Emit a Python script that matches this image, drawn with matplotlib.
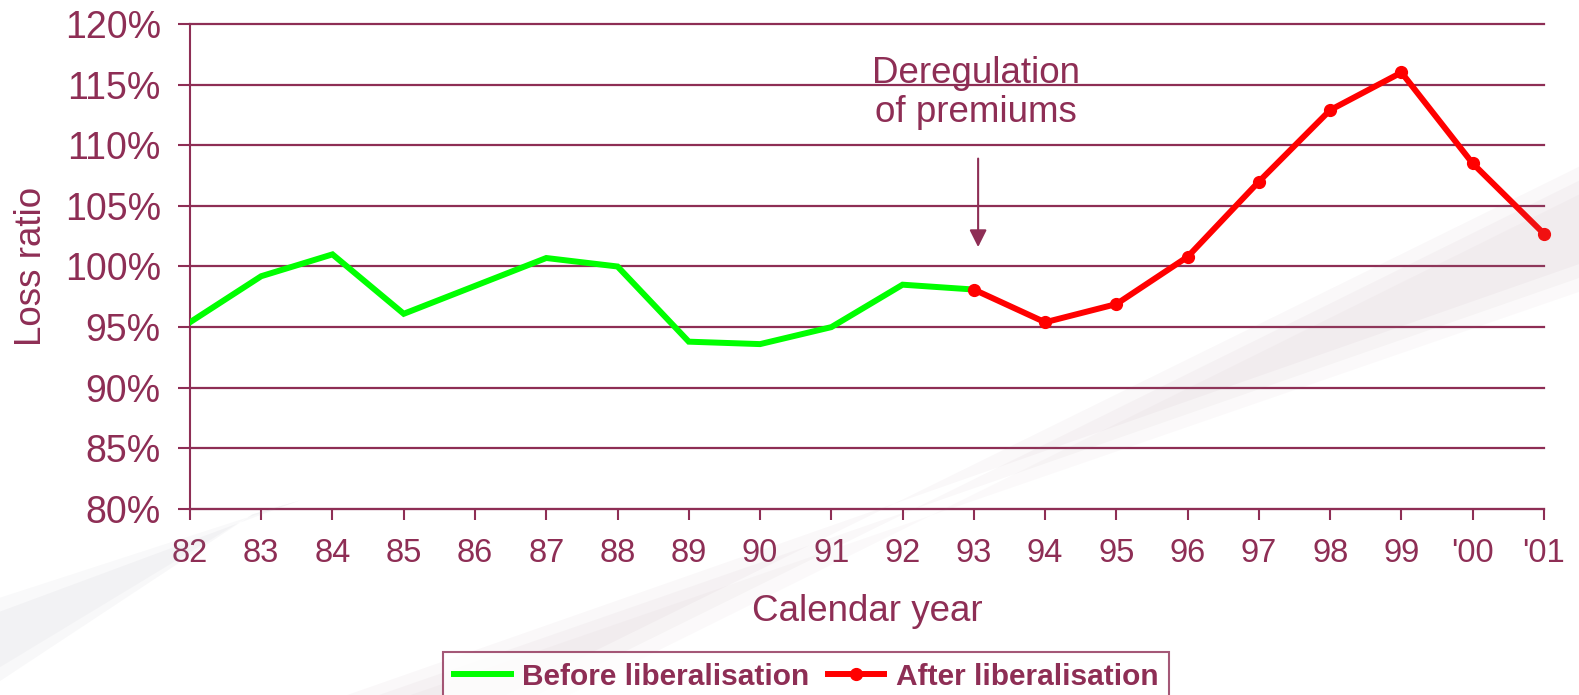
import numpy as np
import matplotlib.pyplot as plt
from matplotlib.patches import Polygon

MAROON = "#8E2E55"
GREEN = "#00FF00"
RED = "#FF0000"

years = ["82", "83", "84", "85", "86", "87", "88", "89", "90", "91",
         "92", "93", "94", "95", "96", "97", "98", "99", "'00", "'01"]
before = [95.4, 99.2, 101.0, 96.1, 98.4, 100.7, 100.0, 93.8, 93.6, 95.0,
          98.5, 98.1]
after = [98.1, 95.4, 96.9, 100.8, 107.0, 112.9, 116.0, 108.5, 102.7]
yticks = [80, 85, 90, 95, 100, 105, 110, 115, 120]

plt.rcParams["font.family"] = ["Liberation Sans", "DejaVu Sans"]

fig = plt.figure(figsize=(15.79, 6.95), dpi=100)

# faint background swooshes (watermark)
for off, a in ((0, 0.05), (0.02, 0.05), (0.04, 0.04)):
    fig.patches.append(Polygon([(0.22 + off, 0.0), (0.32 + off, 0.0), (1.0, 0.76 - off),
                                (1.0, 0.62 - off)], closed=True, transform=fig.transFigure,
                               fc="#A07F8C", ec="none", alpha=a, zorder=0))
for off, a in ((0, 0.06), (0.02, 0.05)):
    fig.patches.append(Polygon([(0.0, 0.12 + off), (0.0, 0.02 + off), (0.16, 0.26),
                                (0.19, 0.28)], closed=True, transform=fig.transFigure,
                               fc="#8C8F9E", ec="none", alpha=a, zorder=0))

ax = fig.add_axes([0.1203, 0.2676, 0.8575, 0.6979])
ax.patch.set_alpha(0)

x_before = np.arange(len(before))
x_after = np.arange(len(before) - 1, len(before) - 1 + len(after))
ax.plot(x_before, before, color=GREEN, lw=4.3, label="Before liberalisation",
        solid_joinstyle="miter", zorder=3)
ax.plot(x_after, after, color=RED, lw=4.3, marker="o", ms=8.5,
        label="After liberalisation", zorder=4, clip_on=False)

ax.set_xlim(0, len(years) - 1)
ax.set_ylim(80, 120)
ax.set_xticks(np.arange(len(years)))
ax.set_xticklabels(years)
ax.set_yticks(yticks)
ax.set_yticklabels([f"{v}%" for v in yticks])
ax.grid(axis="y", color=MAROON, lw=1.6, zorder=1)
ax.set_axisbelow(True)
for gl in ax.get_ygridlines():
    gl.set_clip_on(False)

for s in ("top", "right"):
    ax.spines[s].set_visible(False)
for s in ("left", "bottom"):
    ax.spines[s].set_color(MAROON)
    ax.spines[s].set_linewidth(1.5)
ax.tick_params(axis="x", colors=MAROON, length=8, width=1.5, labelsize=23.5, pad=13)
ax.tick_params(axis="y", colors=MAROON, length=9, width=1.5, labelsize=27, pad=12)

ax.set_xlabel("Calendar year", fontsize=26.5, color=MAROON, labelpad=18)
ax.set_ylabel("Loss ratio", fontsize=26.5, color=MAROON, labelpad=11)

ax.annotate("", xy=(11.06, 101.6), xytext=(11.06, 108.9),
            arrowprops=dict(arrowstyle="-|>", color=MAROON, lw=1.5,
                            mutation_scale=26, shrinkA=0, shrinkB=0))
ax.text(11.03, 114.3, "Deregulation\nof premiums", ha="center", va="center",
        fontsize=26.5, color=MAROON, linespacing=1.12)

leg = fig.legend(loc="upper center", bbox_to_anchor=(0.5107, 0.083), ncol=2,
                 frameon=True, fancybox=False, handlelength=1.9, handletextpad=0.4,
                 columnspacing=0.6, borderpad=0.35,
                 prop={"size": 21.5, "weight": "bold"})
leg.get_frame().set_edgecolor(MAROON)
leg.get_frame().set_linewidth(1.5)
for t in leg.get_texts():
    t.set_color(MAROON)

fig.savefig("out.png", dpi=100)
